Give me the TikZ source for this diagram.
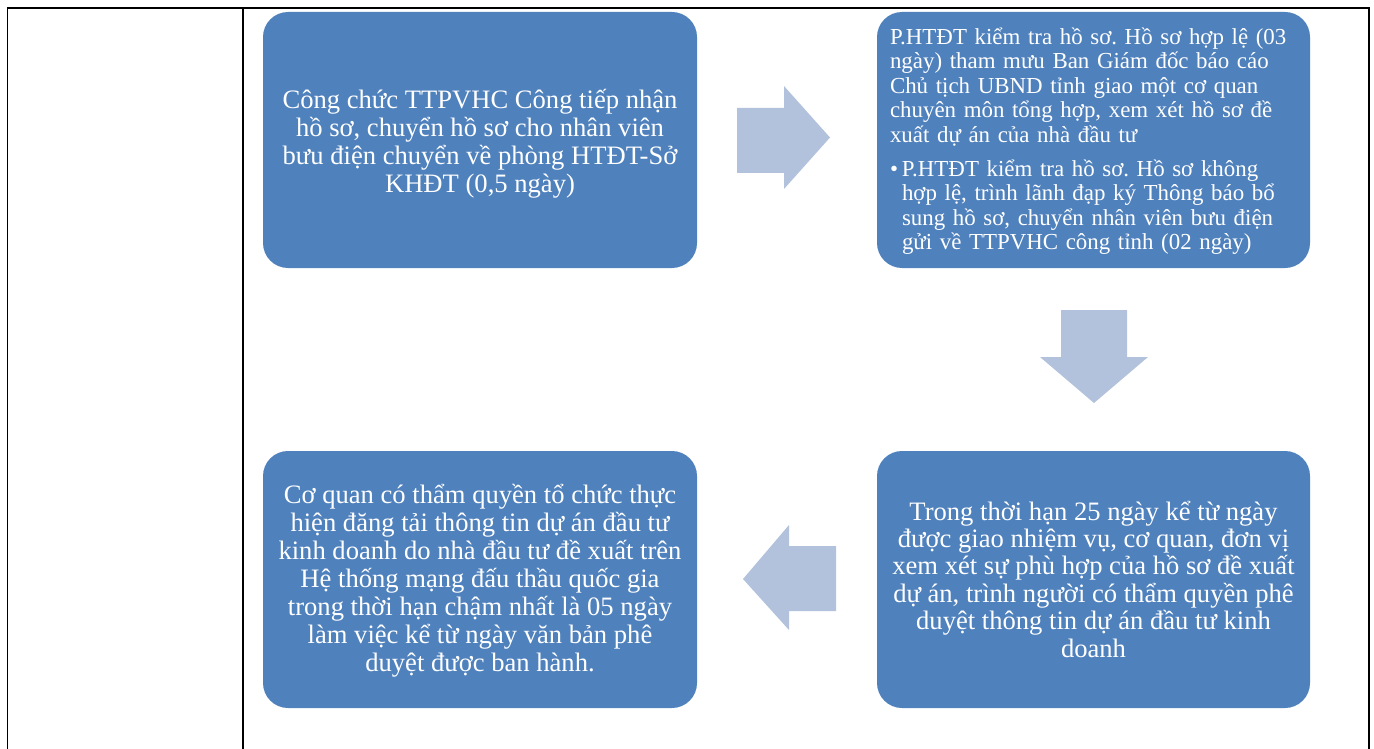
\documentclass[tikz,border=0pt]{standalone}
\usepackage{fontspec}
\setmainfont{Liberation Serif}
\frenchspacing
\definecolor{boxblue}{RGB}{79,129,189}
\definecolor{arrowblue}{RGB}{179,194,220}
\tikzset{
  stepbox/.style={fill=boxblue, draw=none, rounded corners=25pt, minimum width=434pt, minimum height=256pt, inner sep=0pt, text=white},
  bigtext/.style={font=\fontsize{26.6}{28}\selectfont\frenchspacing, align=center, text=white, inner sep=0pt},
  blockarrow/.style={fill=arrowblue, draw=none},
  rule/.style={line width=1.4pt, black}
}
\begin{document}
\begin{tikzpicture}[x=1pt, y=-1pt]
\useasboundingbox (0,0) rectangle (1374,749);
% table lines
\draw[rule] (7.5,749) -- (7.5,8) -- (1369,8) -- (1369,749);
\draw[rule] (243,8) -- (243,749);
% boxes
\node[stepbox] (b1) at (480,140) {};
\node[bigtext] (t1) at (480,144) {Công chức TTPVHC Công tiếp nhận\\hồ sơ, chuyển hồ sơ cho nhân viên\\bưu điện chuyển về phòng HTĐT-Sở\\KHĐT (0,5 ngày)};
\node[stepbox, minimum width=433pt] (b2) at (1093.5,140) {};
\node[text=white, text width=410pt, align=left, inner sep=0pt, font=\fontsize{22.9}{24.5}\selectfont\frenchspacing] (t2) at (1095,141) {P.HTĐT kiểm tra hồ sơ. Hồ sơ hợp lệ (03\\ngày) tham mưu Ban Giám đốc báo cáo\\Chủ tịch UBND tỉnh giao một cơ quan\\chuyên môn tổng hợp, xem xét hồ sơ đề\\xuất dự án của nhà đầu tư\\[9.5pt]\makebox[12pt][l]{•}P.HTĐT kiểm tra hồ sơ. Hồ sơ không\\\hspace*{12pt}hợp lệ, trình lãnh đạp ký Thông báo bổ\\\hspace*{12pt}sung hồ sơ, chuyển nhân viên bưu điện\\\hspace*{12pt}gửi về TTPVHC công tỉnh (02 ngày)};
\node[stepbox, minimum width=433pt, minimum height=257pt] (b3) at (1093.5,579.5) {};
\node[bigtext, font=\fontsize{26.6}{27.4}\selectfont\frenchspacing] (t3) at (1093.5,579) {Trong thời hạn 25 ngày kể từ ngày\\được giao nhiệm vụ, cơ quan, đơn vị\\xem xét sự phù hợp của hồ sơ đề xuất\\dự án, trình người có thẩm quyền phê\\duyệt thông tin dự án đầu tư kinh\\doanh};
\node[stepbox, minimum height=257pt] (b4) at (480,579.5) {};
\node[bigtext] (t4) at (480,581) {Cơ quan có thẩm quyền tổ chức thực\\hiện đăng tải thông tin dự án đầu tư\\kinh doanh do nhà đầu tư đề xuất trên\\Hệ thống mạng đấu thầu quốc gia\\trong thời hạn chậm nhất là 05 ngày\\làm việc kể từ ngày văn bản phê\\duyệt được ban hành.};
% block arrows
\fill[blockarrow] (737,108) -- (784,108) -- (784,86) -- (830,137.5) -- (784,189) -- (784,173) -- (737,173) -- cycle;
\fill[blockarrow] (1061,310) -- (1127,310) -- (1127,357) -- (1148,357) -- (1094,403) -- (1040,357) -- (1061,357) -- cycle;
\fill[blockarrow] (836,546) -- (789,546) -- (789,525) -- (743,579) -- (789,630) -- (789,611) -- (836,611) -- cycle;
\end{tikzpicture}
\end{document}
